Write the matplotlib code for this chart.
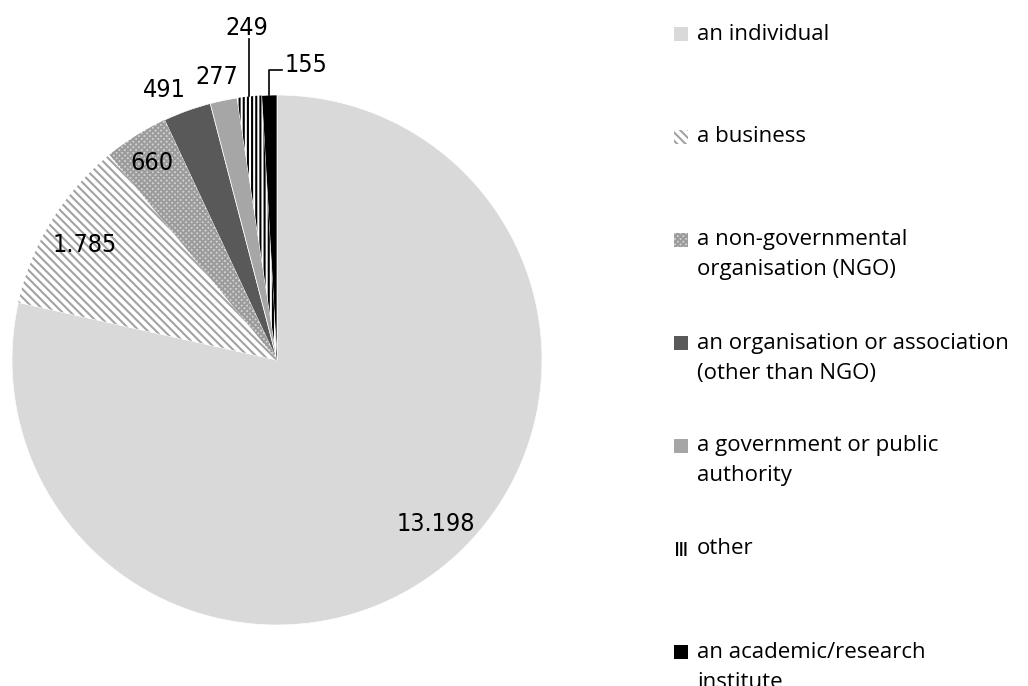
import matplotlib.pyplot as plt
import numpy as np
from matplotlib.patches import Rectangle, Wedge

# values
categories = ["an individual", "a business", "a non-governmental\norganisation (NGO)",
              "an organisation or association\n(other than NGO)", "a government or public\nauthority",
              "other", "an academic/research\ninstitute"]
counts = [13198, 1785, 660, 491, 277, 249, 155]
value_labels = ["13.198", "1.785", "660", "491", "277", "249", "155"]

# styles per slice: facecolor, hatch, hatch colour
faces = ["#d9d9d9", "white", "#d4d4d4", "#595959", "#a6a6a6", "white", "black"]
hatches = [None, "\\\\\\\\", "xxxxxx", None, None, "||||", None]
hatch_cols = [None, "#a3a3a3", "#9c9c9c", None, None, "black", None]

# label positions (data coords, pie radius 1)
label_pos = [(0.60, -0.62), (-0.725, 0.434), (-0.472, 0.743), (-0.423, 1.019),
             (-0.226, 1.068), (-0.113, 1.253), (0.03, 1.113)]

plt.rcParams['hatch.linewidth'] = 1.5
fig = plt.figure(figsize=(10.28, 6.86), dpi=100)
ax = fig.add_axes([12 / 1028, 61 / 686, 530 / 1028, 530 / 686])

wedges, _ = ax.pie(counts, startangle=90, counterclock=False, colors=faces,
                   wedgeprops=dict(edgecolor="white", linewidth=0.5))
for w, h, hc in zip(wedges, hatches, hatch_cols):
    if h:
        ax.add_patch(Wedge(w.center, w.r, w.theta1, w.theta2, facecolor="none",
                           edgecolor=hc, hatch=h, linewidth=0))
ax.set_xlim(-1, 1)
ax.set_ylim(-1, 1)
ax.set_aspect("auto")
ax.axis("off")

lab_font = dict(family="DejaVu Sans", stretch="condensed", fontsize=18, color="black")
for i, (txt, (x, y)) in enumerate(zip(value_labels, label_pos)):
    ax.text(x, y, txt, ha="left" if i == 6 else "center", va="center", **lab_font)

# leader lines for the two thin slices
for i in (5, 6):
    w = wedges[i]
    mid = np.deg2rad((w.theta1 + w.theta2) / 2)
    x0, y0 = np.cos(mid), np.sin(mid)
    if i == 5:
        ax.plot([x0, x0], [y0, 1.21], color="black", lw=1.2, clip_on=False)
    else:
        ax.plot([x0, x0, 0.019], [y0, 1.094, 1.094], color="black", lw=1.2, clip_on=False)

# legend drawn by hand
legend_y = [34, 137, 240, 343, 446, 549, 652]
for i, (cat, yy) in enumerate(zip(categories, legend_y)):
    ypix = 686 - yy
    box = ((674 / 1028, (ypix - 7) / 686), 14 / 1028, 14 / 686)
    fig.add_artist(Rectangle(*box, transform=fig.transFigure,
                             facecolor=faces[i], edgecolor="none"))
    if hatches[i]:
        fig.add_artist(Rectangle(*box, transform=fig.transFigure, facecolor="none",
                                 edgecolor=hatch_cols[i], hatch=hatches[i], linewidth=0))
    for k, ln in enumerate(cat.split("\n")):
        fig.text(697 / 1028, (ypix - 30 * k) / 686, ln, ha="left", va="center",
                 fontsize=16, family="Open Sans", color="black")

fig.savefig("out.png", dpi=100)
